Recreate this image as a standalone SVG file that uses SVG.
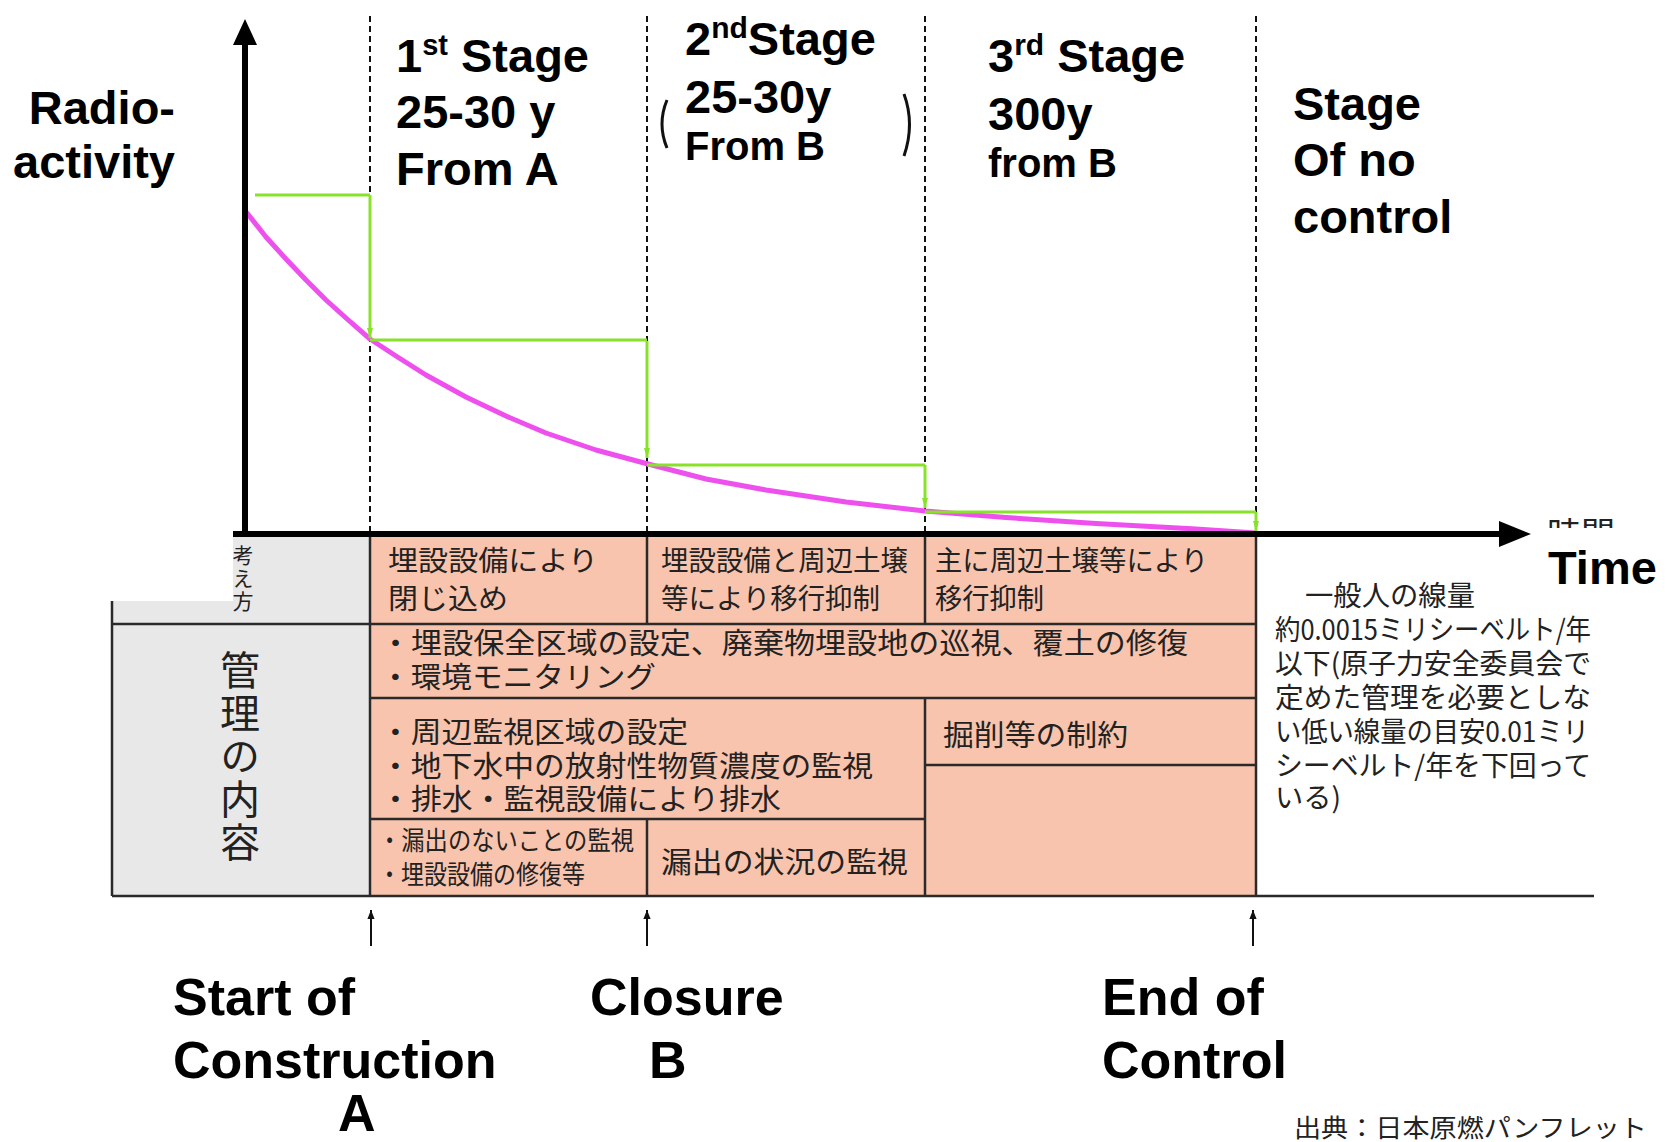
<svg xmlns="http://www.w3.org/2000/svg" width="1666" height="1142" viewBox="0 0 1666 1142">
<defs>
<style>
.en{font-family:"Liberation Sans",Arial,sans-serif;font-weight:bold;fill:#000}
.big{font-size:47px}
.mid{font-size:40px}
.lbl{font-size:52px}
.jp{font-family:"Noto Sans CJK JP","Noto Sans CJK SC",sans-serif;fill:#222}
.vert{writing-mode:vertical-rl}
.t28{font-size:28px}
.t30{font-size:29px}
.t26{font-size:26px}
.dash{stroke:#111;stroke-width:2;stroke-dasharray:6 4;fill:none}
.grid{stroke:#2a2a2a;stroke-width:2.5;fill:none}
.green{stroke:#88E22A;stroke-width:3;fill:none}
.mark{stroke:#111;stroke-width:2;fill:none}
</style>
<marker id="ga" viewBox="0 0 10 10" refX="10" refY="5" markerUnits="userSpaceOnUse" markerWidth="20" markerHeight="10" orient="auto">
<path d="M0,2 L10,5 L0,8 z" fill="#88E22A"/>
</marker>
<marker id="ba" viewBox="0 0 10 10" refX="10" refY="5" markerUnits="userSpaceOnUse" markerWidth="14" markerHeight="9" orient="auto">
<path d="M0,1 L10,5 L0,9 z" fill="#111"/>
</marker>
<clipPath id="clipT"><rect x="1540" y="510" width="90" height="18"/></clipPath>
</defs>
<rect width="1666" height="1142" fill="#fff"/>

<g id="table">
<rect x="112" y="534" width="258" height="362" fill="#E8E8E8"/>
<rect x="370" y="534" width="886" height="362" fill="#F8C4AD"/>
<rect x="100" y="528" width="133" height="73" fill="#fff"/>
<path class="grid" d="M112,601 V896 M370,534 V896 M647,534 V624 M925,534 V624 M647,819 V896 M925,698 V896 M1256,534 V896 M112,624 H1256 M370,698 H1256 M925,765 H1256 M370,819 H925 M112,896 H1594"/>
</g>

<g id="dashes">
<path class="dash" d="M370,16 V534 M647,16 V534 M925,16 V534 M1256,16 V534"/>
</g>

<g id="curves">
<polyline fill="none" stroke="#EE50EE" stroke-width="5" stroke-linecap="round" stroke-linejoin="round" points="247,213 266,237 286,259 306,280 326,300 346,318 370,339 396,356 426,375 466,397 506,416 546,433 596,450 648,464 706,479 766,490 846,502 925,511 1006,517.5 1096,523.5 1196,529 1256,533"/>
<path class="green" d="M255,195 H370"/>
<path class="green" d="M370,195 V338" marker-end="url(#ga)"/>
<path class="green" stroke-width="5" d="M370,340 H647"/>
<path class="green" d="M647,341 V458" marker-end="url(#ga)"/>
<path class="green" d="M647,465 H925"/>
<path class="green" d="M925,465 V508" marker-end="url(#ga)"/>
<path class="green" d="M925,512 H1256"/>
<path class="green" d="M1256,512 V531" marker-end="url(#ga)"/>
</g>

<g id="axes">
<line x1="245" y1="537" x2="245" y2="42" stroke="#000" stroke-width="6"/>
<polygon points="245,19 233,45 257,45" fill="#000"/>
<line x1="233" y1="534" x2="1502" y2="534" stroke="#000" stroke-width="6"/>
<polygon points="1499,521 1531,534 1499,547" fill="#000"/>
</g>

<g id="artifacts">
<path d="M667,100 Q657,124 667,148" stroke="#111" stroke-width="3" fill="none"/>
<path d="M904,94 Q915,124 904,156" stroke="#111" stroke-width="3" fill="none"/>
<text class="jp" x="1547" y="547" font-size="34" fill="#333" clip-path="url(#clipT)">時間</text>
</g>

<g id="ylabel">
<text class="en big" text-anchor="end"><tspan x="175" y="124">Radio-</tspan><tspan x="175" y="178">activity</tspan></text>
</g>
<g id="stage1">
<text class="en big" x="396" y="72">1<tspan font-size="29" dy="-17">st</tspan><tspan dy="17"> Stage</tspan></text>
<text class="en big" x="396" y="128">25-30 y</text>
<text class="en big" x="396" y="185">From A</text>
</g>
<g id="stage2">
<text class="en big" x="685" y="55">2<tspan font-size="30" dy="-17">nd</tspan><tspan dy="17">Stage</tspan></text>
<text class="en big" x="685" y="113">25-30y</text>
<text class="en mid" x="685" y="160">From B</text>
</g>
<g id="stage3">
<text class="en big" x="988" y="72">3<tspan font-size="30" dy="-17">rd</tspan><tspan dy="17"> Stage</tspan></text>
<text class="en big" x="988" y="130">300y</text>
<text class="en mid" x="988" y="177">from B</text>
</g>
<g id="stage4">
<text class="en big"><tspan x="1293" y="120">Stage</tspan><tspan x="1293" y="176">Of no</tspan><tspan x="1293" y="233">control</tspan></text>
</g>
<g id="time">
<text class="en big" x="1548" y="584">Time</text>
</g>

<g id="table-text">
<text class="jp vert" font-size="21" x="243" y="545" letter-spacing="2">考え方</text>
<text class="jp vert" font-size="40" x="240" y="650" letter-spacing="3">管理の内容</text>

<text class="jp t28" x="388" y="571" textLength="210" lengthAdjust="spacingAndGlyphs">埋設設備により</text>
<text class="jp t28" x="388" y="609" textLength="120" lengthAdjust="spacingAndGlyphs">閉じ込め</text>
<text class="jp t28" x="661" y="571" textLength="247" lengthAdjust="spacingAndGlyphs">埋設設備と周辺土壌</text>
<text class="jp t28" x="661" y="609" textLength="219" lengthAdjust="spacingAndGlyphs">等により移行抑制</text>
<text class="jp t28" x="935" y="571" textLength="273" lengthAdjust="spacingAndGlyphs">主に周辺土壌等により</text>
<text class="jp t28" x="935" y="609" textLength="109" lengthAdjust="spacingAndGlyphs">移行抑制</text>

<text class="jp t30" x="380" y="654" textLength="808" lengthAdjust="spacingAndGlyphs">・埋設保全区域の設定、廃棄物埋設地の巡視、覆土の修復</text>
<text class="jp t30" x="380" y="688" textLength="276" lengthAdjust="spacingAndGlyphs">・環境モニタリング</text>

<text class="jp t30" x="380" y="743" textLength="308" lengthAdjust="spacingAndGlyphs">・周辺監視区域の設定</text>
<text class="jp t30" x="380" y="777" textLength="493" lengthAdjust="spacingAndGlyphs">・地下水中の放射性物質濃度の監視</text>
<text class="jp t30" x="380" y="810" textLength="401" lengthAdjust="spacingAndGlyphs">・排水・監視設備により排水</text>
<text class="jp t30" x="943" y="746" textLength="185" lengthAdjust="spacingAndGlyphs">掘削等の制約</text>

<text class="jp t26" x="378" y="850" textLength="256" lengthAdjust="spacingAndGlyphs">・漏出のないことの監視</text>
<text class="jp t26" x="378" y="884" textLength="207" lengthAdjust="spacingAndGlyphs">・埋設設備の修復等</text>
<text class="jp t30" x="661" y="873" textLength="247" lengthAdjust="spacingAndGlyphs">漏出の状況の監視</text>
</g>

<g id="dose-note">
<text class="jp t28" x="1305" y="606" textLength="170" lengthAdjust="spacingAndGlyphs">一般人の線量</text>
<text class="jp t28" x="1275" y="640" textLength="316" lengthAdjust="spacingAndGlyphs">約0.0015ミリシーベルト/年</text>
<text class="jp t28" x="1275" y="674" textLength="316" lengthAdjust="spacingAndGlyphs">以下(原子力安全委員会で</text>
<text class="jp t28" x="1275" y="708" textLength="316" lengthAdjust="spacingAndGlyphs">定めた管理を必要としな</text>
<text class="jp t28" x="1275" y="742" textLength="314" lengthAdjust="spacingAndGlyphs">い低い線量の目安0.01ミリ</text>
<text class="jp t28" x="1275" y="776" textLength="316" lengthAdjust="spacingAndGlyphs">シーベルト/年を下回って</text>
<text class="jp t28" x="1275" y="808" textLength="66" lengthAdjust="spacingAndGlyphs">いる)</text>
</g>

<g id="markers">
<path class="mark" d="M371,946 V910" marker-end="url(#ba)"/>
<path class="mark" d="M647,946 V910" marker-end="url(#ba)"/>
<path class="mark" d="M1253,946 V910" marker-end="url(#ba)"/>
</g>

<g id="events">
<text class="en lbl"><tspan x="173" y="1015">Start of</tspan><tspan x="173" y="1078">Construction</tspan><tspan x="338" y="1131">A</tspan></text>
<text class="en lbl"><tspan x="590" y="1015">Closure</tspan><tspan x="649" y="1078">B</tspan></text>
<text class="en lbl"><tspan x="1102" y="1015">End of</tspan><tspan x="1102" y="1078">Control</tspan></text>
</g>

<g id="source">
<text class="jp" font-size="25" x="1294" y="1137" textLength="353" lengthAdjust="spacingAndGlyphs">出典：日本原燃パンフレット</text>
</g>
</svg>
